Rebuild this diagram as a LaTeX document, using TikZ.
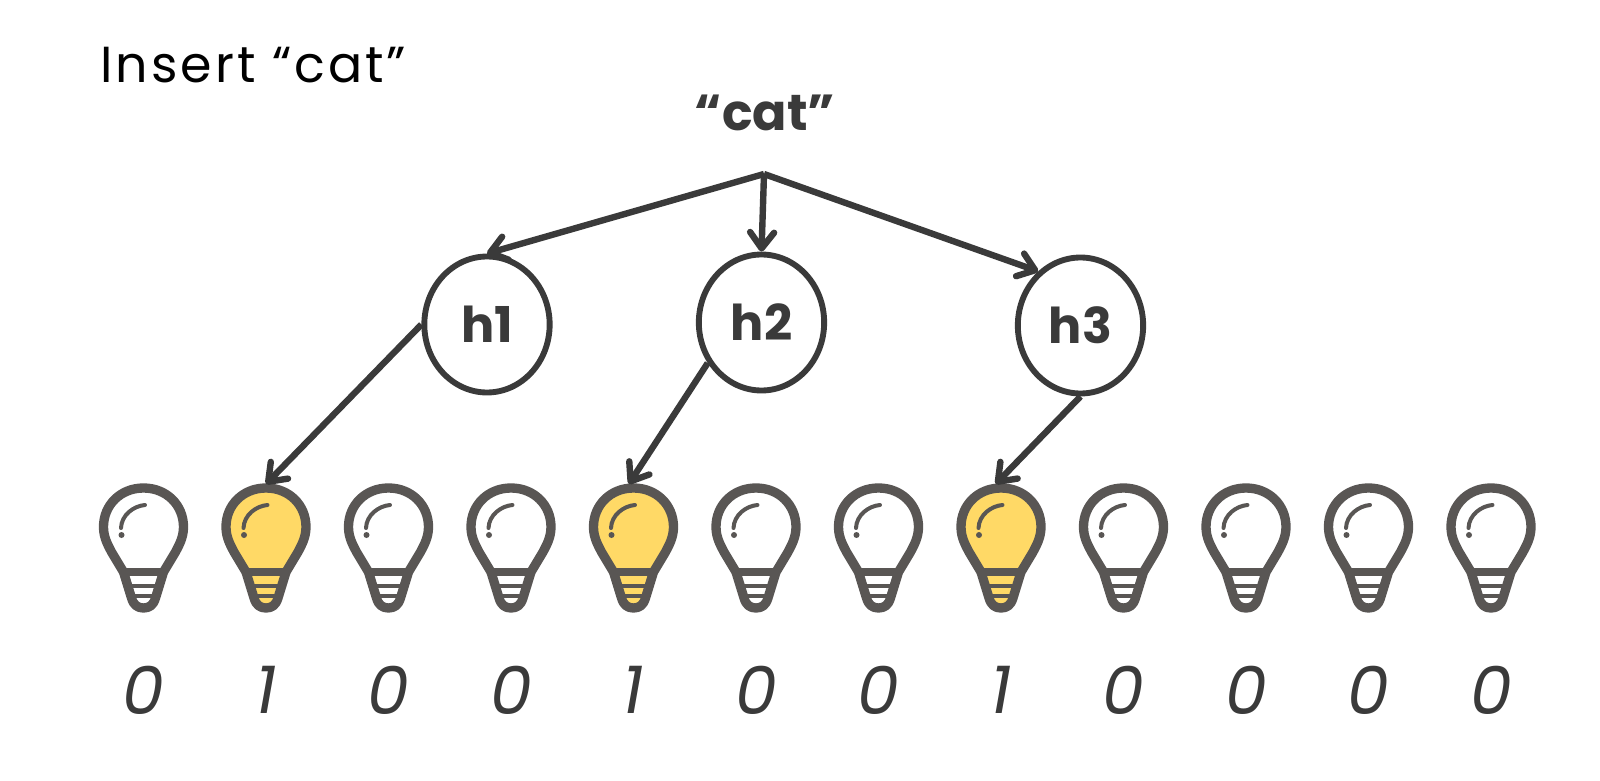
\documentclass[tikz,border=0pt]{standalone}
\usepackage{fontspec}
\setmainfont{Poppins}
\usetikzlibrary{arrows.meta, positioning, shapes.geometric}
\definecolor{ink}{HTML}{3A3A3A}
\definecolor{bulbgray}{HTML}{595654}
\definecolor{lit}{HTML}{FFD966}

\tikzset{
    hash/.style={ellipse,draw=ink,line width=4.4pt,fill=white,minimum width=94pt,minimum height=102pt,inner sep=0pt,font=\fontsize{37}{37}\selectfont\bfseries,text=ink},
    arrow/.style={draw=ink,line width=4.8pt,-{Straight Barb[length=12pt,width=18pt,round]}},
    bit/.style={font=\fontsize{50}{50}\selectfont\itshape,text=ink},
    pics/bulb/.style={code={
        \fill[#1] (2,-1) .. controls (24,-1) and (40,16) .. (40,39) .. controls (40,50) and (35,58) .. (32,64)
            -- (20,84) -- (11,116) -- (-11,116) -- (-18,84) -- (-30,64) .. controls (-33,58) and (-37,50) .. (-37,39) .. controls (-37,16) and (-20,-1) .. (2,-1) -- cycle;
        \draw[bulbgray,line width=7pt,line join=round] (0,0) .. controls (23,0) and (40,17) .. (40,39) .. controls (40,50) and (35,58) .. (32,64)
            -- (20,84) -- (12,110) .. controls (10,117) and (6,120) .. (0,120) .. controls (-6,120) and (-10,117) .. (-12,110)
            -- (-20,84) -- (-32,64) .. controls (-35,58) and (-40,50) .. (-40,39) .. controls (-40,17) and (-23,0) .. (0,0) -- cycle;
        \draw[bulbgray,line width=5.5pt] (-20,84) -- (20,84);
        \draw[bulbgray,line width=3.2pt] (-16,98) -- (16,98);
        \draw[bulbgray,line width=3.2pt] (-13,108) -- (13,108);
        \draw[bulbgray,line width=3pt,line cap=round] (1.5,17) .. controls (-10,18) and (-22,27) .. (-22.5,40);
        \fill[bulbgray] (-22,47) circle (3);
    }}
}

\begin{document}
\begin{tikzpicture}[x=0.75pt,y=-0.75pt]
\useasboundingbox (0,0) rectangle (1600,781);

% Labels on top
\node[anchor=base west,inner sep=0pt,font=\fontsize{38}{40}\selectfont\addfontfeature{LetterSpace=6},text=black] (title) at (100,83) {Insert “cat”};
\node[font=\fontsize{38}{38}\selectfont\bfseries,text=ink] (word) at (765,113) {“cat”};
\coordinate (apex) at (764,174);

% Hash functions
\node[hash] (h1) at (487,324.5) {h1};
\node[hash] (h2) at (761.5,322.5) {h2};
\node[hash] (h3) at (1080.5,325.5) {h3};

% Bulbs and bits
\foreach \i/\x/\v/\c in {1/143.5/0/white,2/266/1/lit,3/388.5/0/white,4/511/0/white,5/633.5/1/lit,6/756/0/white,
    7/878.5/0/white,8/1001/1/lit,9/1123.5/0/white,10/1246/0/white,11/1368.5/0/white,12/1491/0/white}{
    \pic at (\x,488) {bulb=\c};
    \coordinate (b\i) at (\x,484);
    \node[bit] (v\i) at (\x,690) {\v};
}

% Arrows
\draw[arrow] (apex) -- (h1.north);
\draw[arrow] (apex) -- (h2.north);
\draw[arrow] (apex) -- (h3.128);
\draw[arrow] (h1.west) -- (b2);
\draw[arrow] (h2.217) -- ([xshift=-3.5]b5);
\draw[arrow] (h3.south) -- ([xshift=-4]b8);
\end{tikzpicture}
\end{document}
